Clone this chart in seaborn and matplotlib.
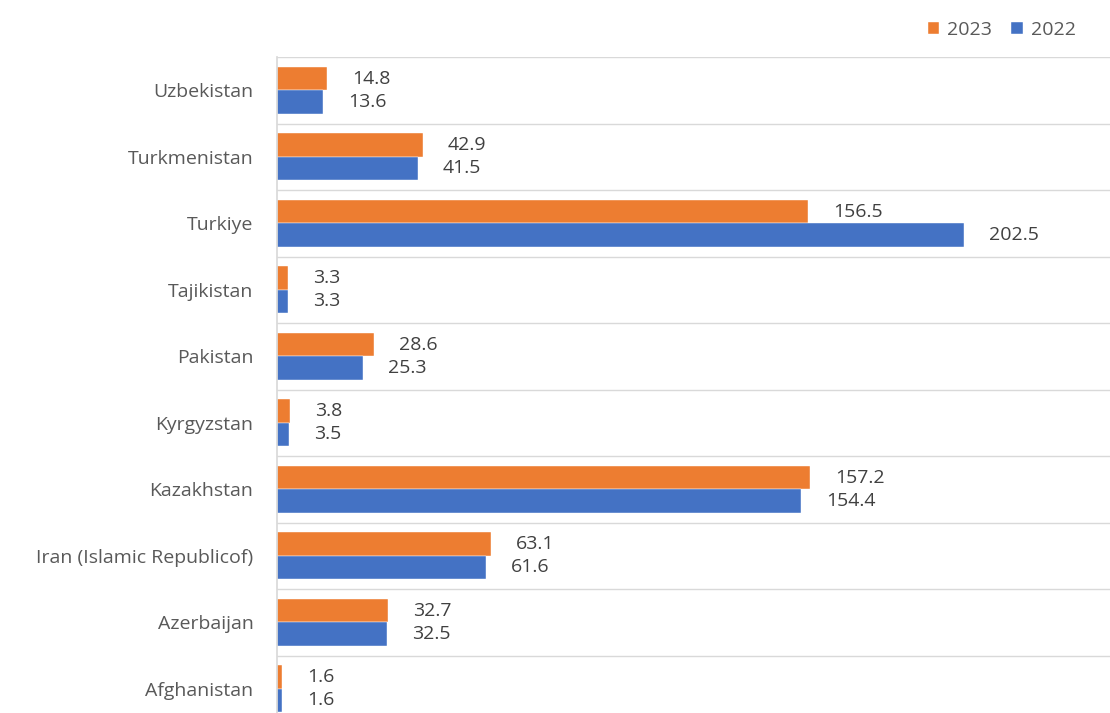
import numpy as np
import pandas as pd
import matplotlib
matplotlib.use("Agg")
import matplotlib.pyplot as plt
import seaborn as sns

countries = ["Uzbekistan", "Turkmenistan", "Turkiye", "Tajikistan", "Pakistan",
             "Kyrgyzstan", "Kazakhstan", "Iran (Islamic Republicof)", "Azerbaijan", "Afghanistan"]
values_2023 = [14.8, 42.9, 156.5, 3.3, 28.6, 3.8, 157.2, 63.1, 32.7, 1.6]
values_2022 = [13.6, 41.5, 202.5, 3.3, 25.3, 3.5, 154.4, 61.6, 32.5, 1.6]
years = ["2023", "2022"]
colors = ["#ED7D31", "#4472C4"]

df = pd.DataFrame({
    "country": countries * 2,
    "value": values_2023 + values_2022,
    "year": [years[0]] * len(countries) + [years[1]] * len(countries),
})

sns.set_theme(style="white")
plt.rcParams["font.family"] = ["Open Sans", "DejaVu Sans"]

fig = plt.figure(figsize=(11.10, 7.13), dpi=100)
ax = fig.add_axes([277/1110, -9/713, 833/1110, 665/713])

sns.barplot(data=df, y="country", x="value", hue="year", hue_order=years,
            palette=colors, saturation=1, orient="h", width=0.7, ax=ax, legend=True,
            edgecolor="white", linewidth=0.3)

for cont in ax.containers:
    ax.bar_label(cont, fmt="%.1f", padding=18, fontsize=14, color="#404040")

ax.set_xlim(0, 245.5)
ax.set_ylim(len(countries) - 0.5, -0.5)
ax.set_xlabel("")
ax.set_ylabel("")
ax.set_xticks([])
ax.set_yticks(np.arange(-0.5, len(countries), 1), minor=True)
ax.grid(which="minor", axis="y", color="#D9D9D9", linewidth=1)
ax.tick_params(axis="y", which="both", length=0, labelsize=14, labelcolor="#595959", pad=17)
for s in ["top", "right", "bottom"]:
    ax.spines[s].set_visible(False)
ax.spines["left"].set_color("#D9D9D9")

handles, labels = ax.get_legend_handles_labels()
ax.get_legend().remove()
fig.legend(handles, labels, loc="upper right", bbox_to_anchor=(0.985, 0.995), ncol=2,
           frameon=False, fontsize=14, handlelength=0.6, handleheight=0.6,
           columnspacing=1.0, handletextpad=0.4, labelcolor="#595959")

fig.savefig("out.png", dpi=100)
